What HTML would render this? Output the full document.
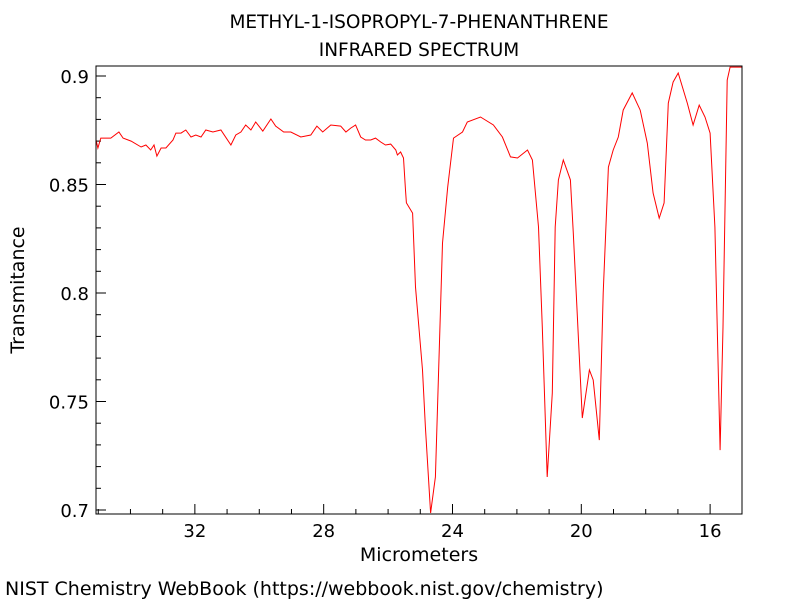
<!DOCTYPE html>
<html><head><meta charset="utf-8"><style>
body{margin:0;background:#fff;}
svg{display:block;font-family:"DejaVu Sans","Liberation Sans",sans-serif;}
</style></head><body>
<svg id="chart" width="800" height="600" xmlns="http://www.w3.org/2000/svg">
<text x="419" y="28" font-size="18.5" text-anchor="middle">METHYL-1-ISOPROPYL-7-PHENANTHRENE</text>
<text x="419" y="56" font-size="18.5" text-anchor="middle">INFRARED SPECTRUM</text>
<text x="419" y="561" font-size="19" text-anchor="middle">Micrometers</text>
<text transform="translate(24,290) rotate(-90)" font-size="19" text-anchor="middle">Transmitance</text>
<text x="5" y="595" font-size="19">NIST Chemistry WebBook (https://webbook.nist.gov/chemistry)</text>
<g id="axes"></g>
<g id="series"></g>
<rect x="96" y="66" width="646" height="448" fill="none" stroke="#000" stroke-width="1"/>
</svg>
<script>
const wavelengths=[35.07,35.01,34.92,34.61,34.36,34.23,33.98,33.67,33.52,33.37,33.27,33.18,33.05,32.90,32.68,32.59,32.43,32.28,32.12,31.97,31.81,31.66,31.44,31.19,30.88,30.73,30.57,30.42,30.26,30.11,29.89,29.64,29.49,29.24,29.02,28.71,28.40,28.21,28.03,27.78,27.47,27.31,27.16,27.01,26.85,26.70,26.54,26.39,26.23,26.08,25.92,25.76,25.71,25.61,25.52,25.46,25.43,25.24,25.15,24.93,24.84,24.68,24.53,24.31,24.15,23.97,23.69,23.54,23.13,22.73,22.45,22.20,21.98,21.67,21.52,21.33,21.21,21.06,20.90,20.81,20.71,20.56,20.34,20.25,20.03,19.97,19.75,19.63,19.44,19.32,19.16,19.01,18.85,18.70,18.42,18.17,17.95,17.77,17.58,17.43,17.30,17.15,16.99,16.71,16.53,16.34,16.16,16.00,15.85,15.69,15.60,15.47,15.38,15.01];
const transmittance=[0.8705,0.8668,0.8714,0.8714,0.8742,0.8714,0.8700,0.8673,0.8682,0.8659,0.8682,0.8631,0.8668,0.8668,0.8705,0.8737,0.8737,0.8751,0.8719,0.8728,0.8719,0.8751,0.8742,0.8751,0.8682,0.8728,0.8742,0.8774,0.8751,0.8788,0.8746,0.8802,0.8769,0.8742,0.8742,0.8719,0.8728,0.8769,0.8742,0.8774,0.8769,0.8742,0.8760,0.8774,0.8719,0.8705,0.8705,0.8714,0.8696,0.8682,0.8686,0.8659,0.8636,0.8650,0.8622,0.8474,0.8415,0.8368,0.8027,0.7645,0.7382,0.6986,0.7152,0.8230,0.8488,0.8714,0.8742,0.8788,0.8811,0.8774,0.8719,0.8627,0.8622,0.8659,0.8613,0.8304,0.7843,0.7152,0.7539,0.8304,0.8521,0.8613,0.8521,0.8276,0.7613,0.7424,0.7645,0.7599,0.7322,0.8000,0.8580,0.8659,0.8719,0.8843,0.8922,0.8843,0.8691,0.8461,0.8345,0.8415,0.8875,0.8972,0.9014,0.8875,0.8774,0.8866,0.8811,0.8737,0.8304,0.7276,0.7843,0.8981,0.9041,0.9041];
const yTickLabels=["0.7","0.75","0.8","0.85","0.9"];
const xTickLabels=["32","28","24","20","16"];
const NS="http://www.w3.org/2000/svg";
const X0=96,X1=742,Y0=66,Y1=514;
const xDom=[35.07,15.01], yDom=[0.7,0.9];
function xs(v){return X0+(xDom[0]-v)/(xDom[0]-xDom[1])*(X1-X0);}
function ys(v){return 510-(v-yDom[0])/(yDom[1]-yDom[0])*434;}
function mk(tag,attrs,parent){const e=document.createElementNS(NS,tag);for(const k in attrs)e.setAttribute(k,attrs[k]);parent.appendChild(e);return e;}
const axes=document.getElementById('axes');
for(let i=0;i<=20;i++){const v=0.7+i*0.01;const y=ys(v);if(y<Y0)continue;const major=i%5===0;
 const t=mk('line',{x1:X0,x2:X0+(major?10:5),y1:y,y2:y,stroke:'#000','stroke-width':1},axes);
 
 }
yTickLabels.forEach(s=>{const t=mk('text',{x:89,y:ys(parseFloat(s))+7,'font-size':18,'text-anchor':'end'},axes);t.textContent=s;
 
 });
for(let v=35;v>=15;v--){const x=xs(v);if(x<X0||x>X1)continue;const major=v%4===0;
 const t=mk('line',{x1:x,x2:x,y1:Y1,y2:Y1-(major?10:5),stroke:'#000','stroke-width':1},axes);
 
 }
xTickLabels.forEach(s=>{const t=mk('text',{x:xs(parseFloat(s)),y:537,'font-size':18,'text-anchor':'middle'},axes);t.textContent=s;
 
 });
const ser=document.getElementById('series');
const cp=mk('clipPath',{id:'clip'},ser);mk('rect',{x:X0,y:Y0,width:X1-X0,height:Y1-Y0},cp);
const d=wavelengths.map((w,i)=>(i?'L':'M')+xs(w).toFixed(1)+','+ys(transmittance[i]).toFixed(1)).join(' ');
const p=mk('path',{d:d,fill:'none',stroke:'#ff0000','stroke-width':1,'clip-path':'url(#clip)'},ser);


</script>
</body></html>
